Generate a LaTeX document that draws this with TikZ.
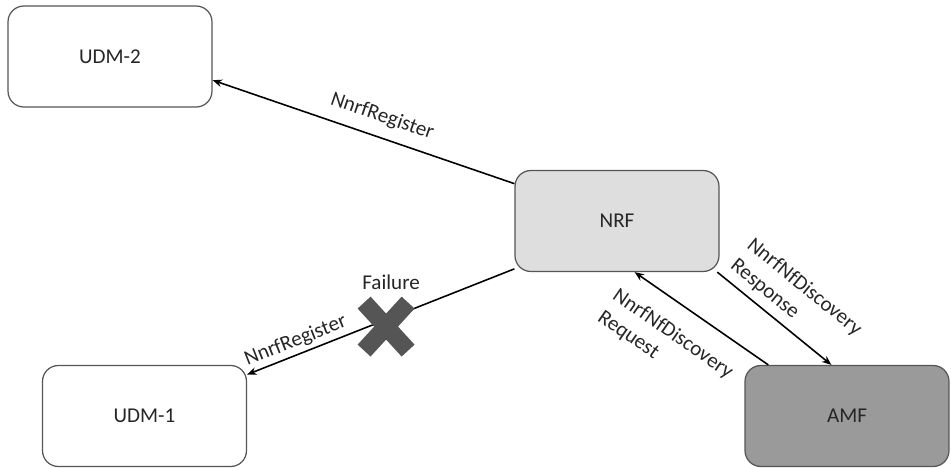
\documentclass[tikz,border=0pt]{standalone}
\usepackage{fontspec}
\setmainfont{Carlito}
\usepackage{xcolor}
\usetikzlibrary{arrows.meta,positioning,calc}
\definecolor{ink}{HTML}{262626}
\definecolor{rim}{HTML}{555555}
\definecolor{nrffill}{HTML}{DEDEDE}
\definecolor{amffill}{HTML}{9A9A9A}
\definecolor{cross}{HTML}{555555}
\newcommand{\nffont}{\fontsize{12}{15}\selectfont}
\tikzset{
  nf/.style={draw=rim, rounded corners=9pt, line width=0.7pt, fill=white,
    minimum width=4.08cm, minimum height=2.02cm, font=\nffont, text=ink},
  msg/.style={-{Stealth[length=1.9mm,width=1.5mm]}, line width=0.9pt},
  msgback/.style={{Stealth[length=1.9mm,width=1.5mm]}-, line width=0.9pt},
  lbl/.style={font=\nffont, text=ink, sloped, inner sep=1pt},
  lbltwo/.style={lbl, align=left},
  note/.style={font=\nffont, text=ink, inner sep=1pt},
}

\begin{document}
\begin{tikzpicture}[x=0.02cm,y=-0.02cm]
  \useasboundingbox (0,0) rectangle (951,468);
  % network functions
  \node[nf] (udm2) at (110,56.5) {UDM-2};
  \node[nf, fill=nrffill] (nrf) at (617,221) {NRF};
  \node[nf] (udm1) at (144.5,416) {UDM-1};
  \node[nf, fill=amffill] (amf) at (847,416) {AMF};
  % registration
  \draw[msgback] (udm2.-13) -- node[lbl, above=5pt, pos=0.54] {NnrfRegister} (nrf.160);
  \draw[msgback] (udm1.22) -- node[lbl, above=1pt, pos=0.2] {NnrfRegister}
    coordinate[pos=0.52] (cut) (nrf.205);
  % failed registration
  \coordinate (xmark) at ($(cut)+(0,7)$);
  \draw[cross, line width=10pt, line cap=butt]
    ($(xmark)+(-22,-24)$) -- ($(xmark)+(22,24)$)
    ($(xmark)+(-22,24)$) -- ($(xmark)+(22,-24)$);
  \node[note] (failure) at ($(xmark)+(5,-44)$) {Failure};
  % discovery
  \draw[msgback] (nrf.289) -- node[lbltwo, below=10pt, pos=0.41] {NnrfNfDiscovery\\Request} (amf.147);
  \draw[msg] (nrf.-27) -- node[lbltwo, above=3pt, pos=0.525] {NnrfNfDiscovery\\Response} (amf.107);
\end{tikzpicture}
\end{document}
